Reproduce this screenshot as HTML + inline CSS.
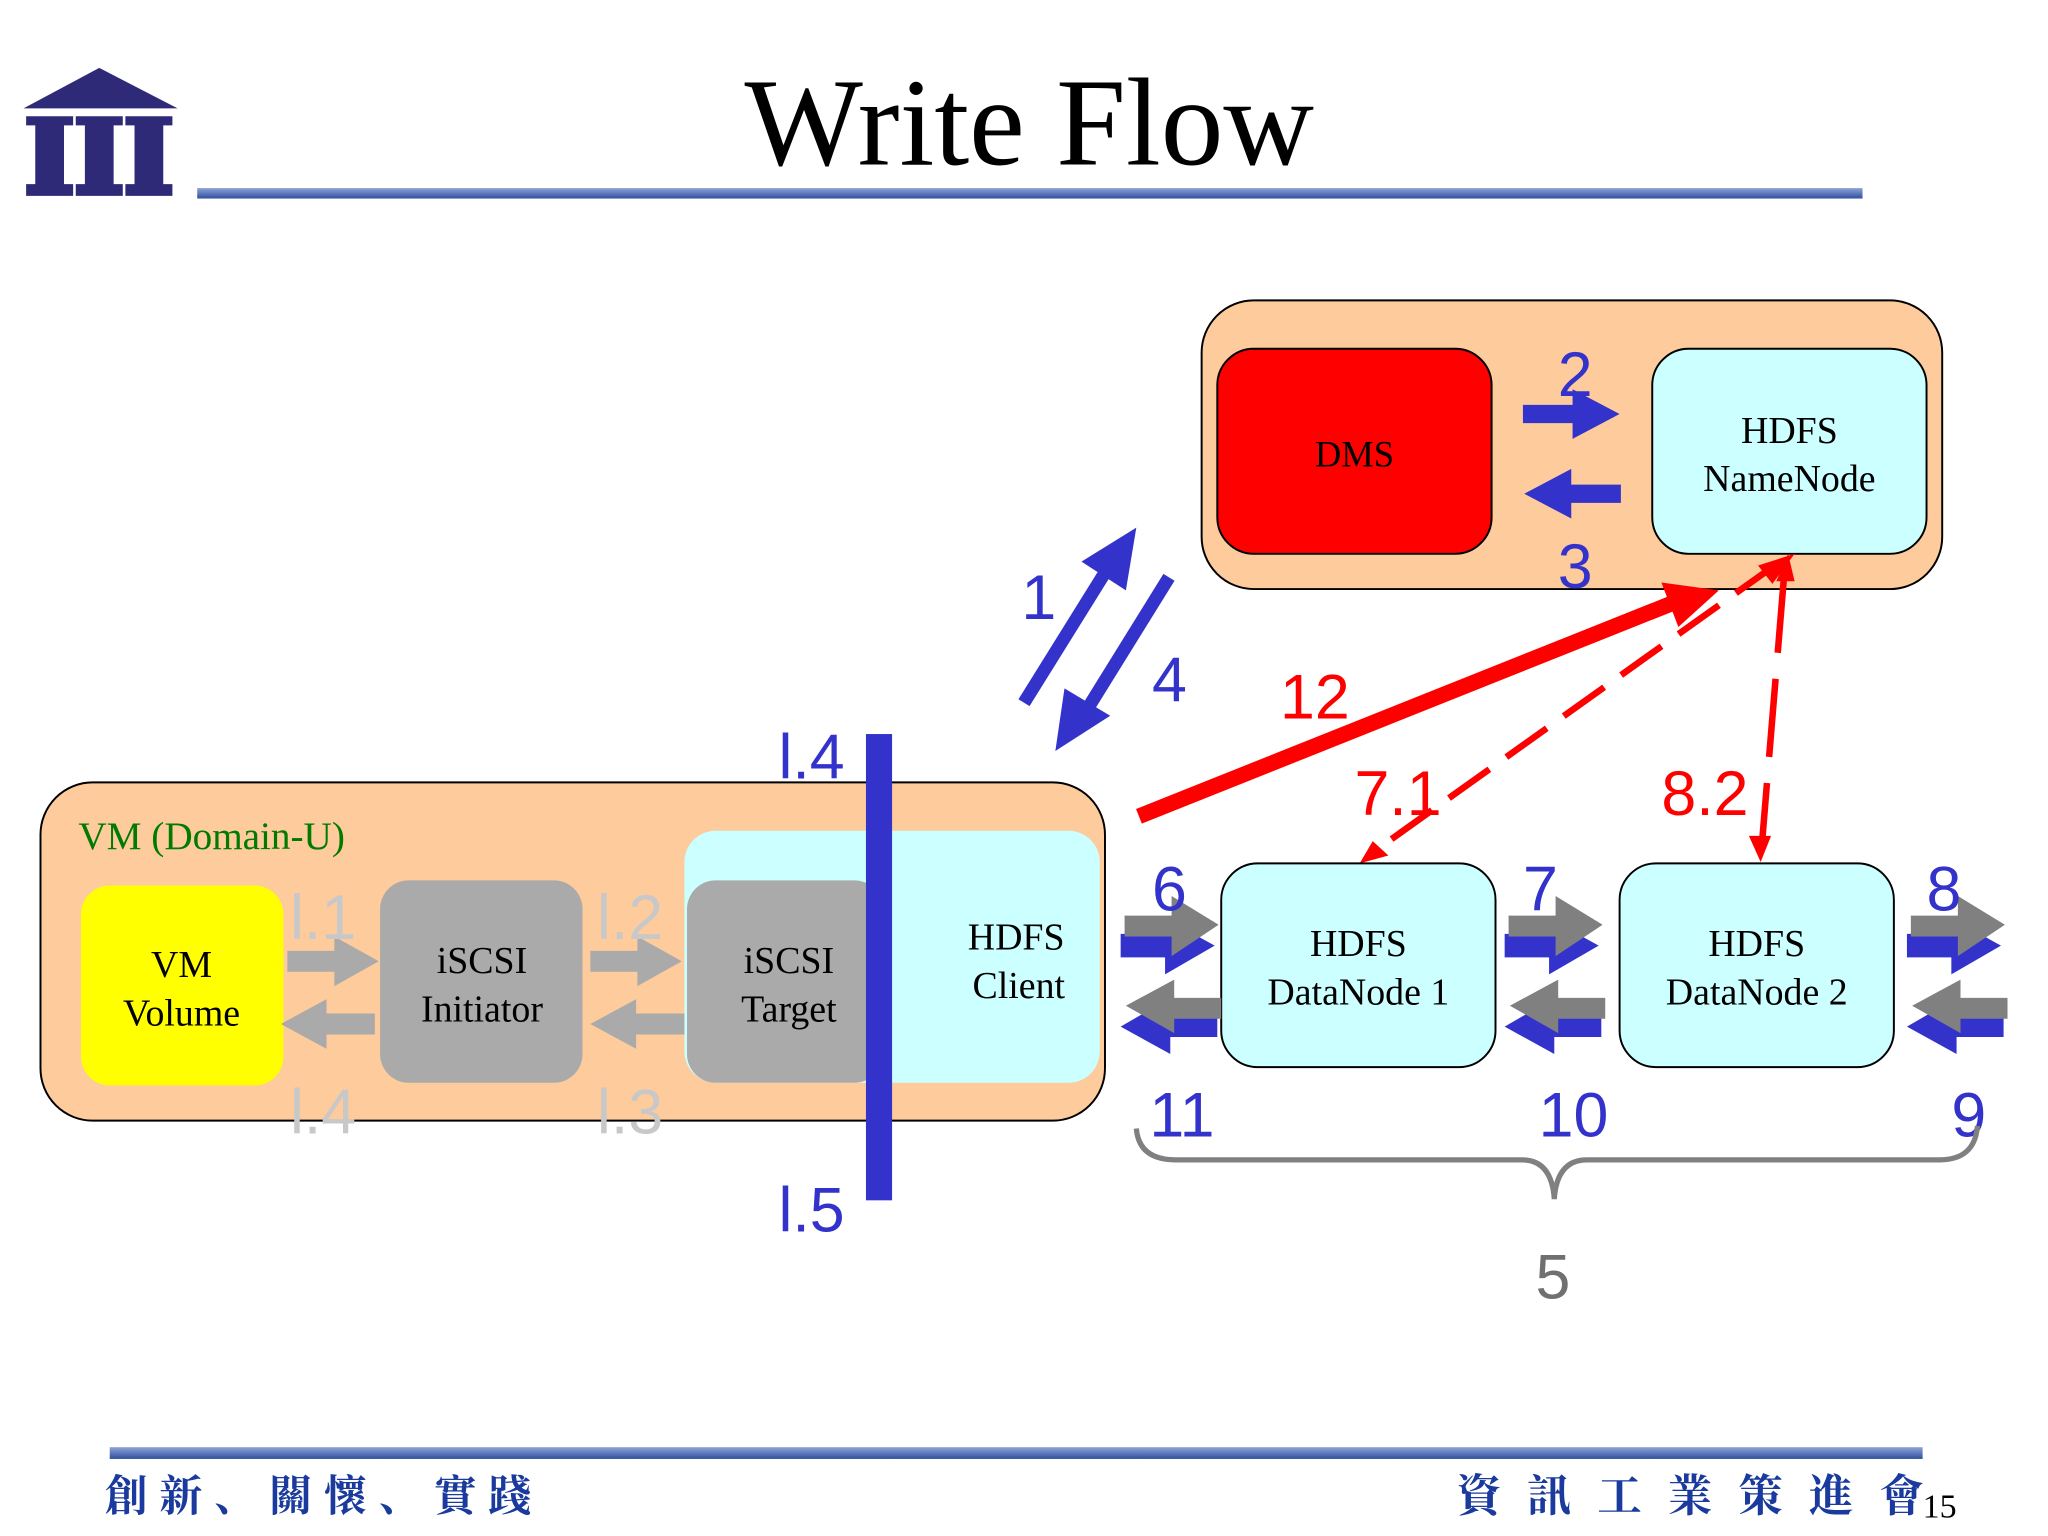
<!DOCTYPE html>
<html><head><meta charset="utf-8"><style>
html,body{margin:0;padding:0;background:#fff;}
svg{display:block;}
</style></head><body>
<svg width="2048" height="1536" viewBox="0 0 1568 1176" xmlns="http://www.w3.org/2000/svg">
<defs>
<linearGradient id="bar" x1="0" y1="0" x2="0" y2="1"><stop offset="0" stop-color="#8fa3d8"/><stop offset="1" stop-color="#2e4f9e"/></linearGradient>
</defs>
<rect width="1568" height="1176" fill="#fff"/>
<!-- logo -->
<g fill="#2e2a78">
<polygon points="18,83 76,52 136,83"/>
<path id="col" d="M20,89h36v7h-7v45h7v9h-36v-9h7v-45h-7z"/>
<use href="#col" x="38"/>
<use href="#col" x="76"/>
</g>
<rect x="151" y="144" width="1275" height="8" fill="url(#bar)"/>
<text x="788" y="126" font-family="Liberation Serif, serif" font-size="96" text-anchor="middle" fill="#000">Write Flow</text>

<!-- top container -->
<rect x="920" y="230" width="567" height="221" rx="40" fill="#fdcb9c" stroke="#000" stroke-width="1.5"/>
<rect x="932" y="267" width="210" height="157" rx="28" fill="#ff0000" stroke="#000" stroke-width="1.5"/>
<text x="1037" y="357" font-family="Liberation Serif, serif" font-size="28" text-anchor="middle">DMS</text>
<rect x="1265" y="267" width="210" height="157" rx="28" fill="#ccffff" stroke="#000" stroke-width="1.5"/>
<text x="1370" y="339" font-family="Liberation Serif, serif" font-size="29" text-anchor="middle">HDFS</text>
<text x="1370" y="376" font-family="Liberation Serif, serif" font-size="29" text-anchor="middle">NameNode</text>
<polygon points="1166,310 1204,310 1204,298 1240,317 1204,336 1204,324 1166,324" fill="#3333cc"/>
<polygon points="1241,371 1203,371 1203,359 1167,378 1203,397 1203,385 1241,385" fill="#3333cc"/>
<text x="1206" y="303" font-family="Liberation Sans, sans-serif" font-size="48" fill="#3333cc" text-anchor="middle">2</text>
<text x="1206" y="450" font-family="Liberation Sans, sans-serif" font-size="48" fill="#3333cc" text-anchor="middle">3</text>

<!-- VM container -->
<rect x="31" y="599" width="815" height="259" rx="40" fill="#fdcb9c" stroke="#000" stroke-width="1.5"/>
<text x="60" y="650" font-family="Liberation Serif, serif" font-size="30" fill="#007a00">VM (Domain-U)</text>
<rect x="524" y="636" width="318" height="193" rx="24" fill="#ccffff"/>
<rect x="62" y="678" width="155" height="153" rx="22" fill="#ffff00"/>
<text x="139" y="748" font-family="Liberation Serif, serif" font-size="29" text-anchor="middle">VM</text>
<text x="139" y="785" font-family="Liberation Serif, serif" font-size="29" text-anchor="middle">Volume</text>
<rect x="291" y="674" width="155" height="155" rx="22" fill="#aaaaaa"/>
<text x="369" y="745" font-family="Liberation Serif, serif" font-size="29" text-anchor="middle">iSCSI</text>
<text x="369" y="782" font-family="Liberation Serif, serif" font-size="29" text-anchor="middle">Initiator</text>
<rect x="526" y="674" width="150" height="155" rx="22" fill="#aaaaaa"/>
<text x="604" y="745" font-family="Liberation Serif, serif" font-size="29" text-anchor="middle">iSCSI</text>
<text x="604" y="782" font-family="Liberation Serif, serif" font-size="29" text-anchor="middle">Target</text>
<text x="778" y="727" font-family="Liberation Serif, serif" font-size="29" text-anchor="middle">HDFS</text>
<text x="780" y="764" font-family="Liberation Serif, serif" font-size="29" text-anchor="middle">Client</text>
<!-- light gray arrows -->
<g fill="#aaaaaa">
<polygon points="220,728 256,728 256,717 290,736 256,755 256,744 220,744"/>
<polygon points="452,728 488,728 488,717 522,736 488,755 488,744 452,744"/>
<polygon points="287,776 250,776 250,765 215,784 250,803 250,792 287,792"/>
<polygon points="524,776 487,776 487,765 452,784 487,803 487,792 524,792"/>
</g>
<g font-family="Liberation Sans, sans-serif" font-size="48" fill="#c8c8c8">
<text x="222" y="719">l.1</text><text x="457" y="719">l.2</text>
<text x="222" y="868">l.4</text><text x="457" y="868">l.3</text>
</g>
<rect x="663" y="562" width="20" height="357" fill="#3333cc"/>
<g font-family="Liberation Sans, sans-serif" font-size="48" fill="#3333cc">
<text x="596" y="596">l.4</text><text x="596" y="943">l.5</text>
</g>

<!-- diagonal blue arrows -->
<g stroke="#3333cc" stroke-width="10" fill="#3333cc">
<line x1="784" y1="538" x2="845" y2="440"/>
<line x1="895" y1="442" x2="833" y2="542"/>
</g>
<polygon points="870,404 862,452 828,430" fill="#3333cc"/>
<polygon points="808,575 815,527 850,548" fill="#3333cc"/>
<text x="782" y="474" font-family="Liberation Sans, sans-serif" font-size="48" fill="#3333cc">1</text>
<text x="882" y="537" font-family="Liberation Sans, sans-serif" font-size="48" fill="#3333cc">4</text>

<!-- red arrows -->
<line x1="872" y1="625" x2="1280" y2="462" stroke="#ff0000" stroke-width="12"/>
<polygon points="1316,452 1272,446 1285,480" fill="#ff0000"/>
<line x1="1360" y1="432" x2="1052" y2="652" stroke="#ff0000" stroke-width="5" stroke-dasharray="38,16"/>
<polygon points="1374,424 1346,433 1357,447" fill="#ff0000"/>
<polygon points="1041,661 1051,644 1063,655" fill="#ff0000"/>
<line x1="1366" y1="440" x2="1349" y2="646" stroke="#ff0000" stroke-width="5" stroke-dasharray="60,20"/>
<polygon points="1369,424 1360,445 1374,445" fill="#ff0000"/>
<polygon points="1348,660 1339,640 1356,640" fill="#ff0000"/>
<g font-family="Liberation Sans, sans-serif" font-size="48" fill="#ff0000">
<text x="980" y="550">12</text><text x="1037" y="624">7.1</text><text x="1272" y="624">8.2</text>
</g>

<!-- datanodes -->
<rect x="935" y="661" width="210" height="156" rx="28" fill="#ccffff" stroke="#000" stroke-width="1.5"/>
<text x="1040" y="732" font-family="Liberation Serif, serif" font-size="29" text-anchor="middle">HDFS</text>
<text x="1040" y="769" font-family="Liberation Serif, serif" font-size="29" text-anchor="middle">DataNode 1</text>
<rect x="1240" y="661" width="210" height="156" rx="28" fill="#ccffff" stroke="#000" stroke-width="1.5"/>
<text x="1345" y="732" font-family="Liberation Serif, serif" font-size="29" text-anchor="middle">HDFS</text>
<text x="1345" y="769" font-family="Liberation Serif, serif" font-size="29" text-anchor="middle">DataNode 2</text>

<!-- double arrows -->
<g id="dr">
<polygon points="858,715 892,715 892,703 930,724 892,746 892,733 858,733" fill="#3333cc"/>
<polygon points="861,701 897,701 897,686 933,708 897,732 897,717 861,717" fill="#808080"/>
<polygon points="932,776 896,776 896,764 858,786 896,807 896,794 932,794" fill="#3333cc"/>
<polygon points="935,764 899,764 899,750 862,770 899,791 899,780 935,780" fill="#808080"/>
</g>
<use href="#dr" x="294"/>
<use href="#dr" x="602"/>
<g font-family="Liberation Sans, sans-serif" font-size="48" fill="#3333cc">
<text x="882" y="697">6</text><text x="1166" y="697">7</text><text x="1475" y="697">8</text>
<text x="880" y="870">11</text><text x="1178" y="870">10</text><text x="1494" y="870">9</text>
</g>
<!-- brace -->
<path d="M870,864 Q872,888 900,888 L1165,888 Q1188,888 1190,918 Q1192,888 1215,888 L1485,888 Q1512,888 1514,862" fill="none" stroke="#808080" stroke-width="4"/>
<text x="1189" y="994" font-family="Liberation Sans, sans-serif" font-size="48" fill="#707070" text-anchor="middle">5</text>

<!-- footer -->
<rect x="84" y="1108" width="1388" height="9" fill="url(#bar)"/>
<text x="80" y="1157" font-family="Liberation Serif, 'Noto Serif CJK SC', serif" font-size="33" fill="#1a3a9e" font-weight="bold" letter-spacing="9">創新、關懷、實踐</text>
<text x="1115" y="1157" font-family="Liberation Serif, 'Noto Serif CJK SC', serif" font-size="34" fill="#1a3a9e" font-weight="bold" letter-spacing="20">資訊工業策進會</text>
<text x="1472" y="1162" font-family="Liberation Serif, serif" font-size="26" fill="#000">15</text>
</svg>
</body></html>
